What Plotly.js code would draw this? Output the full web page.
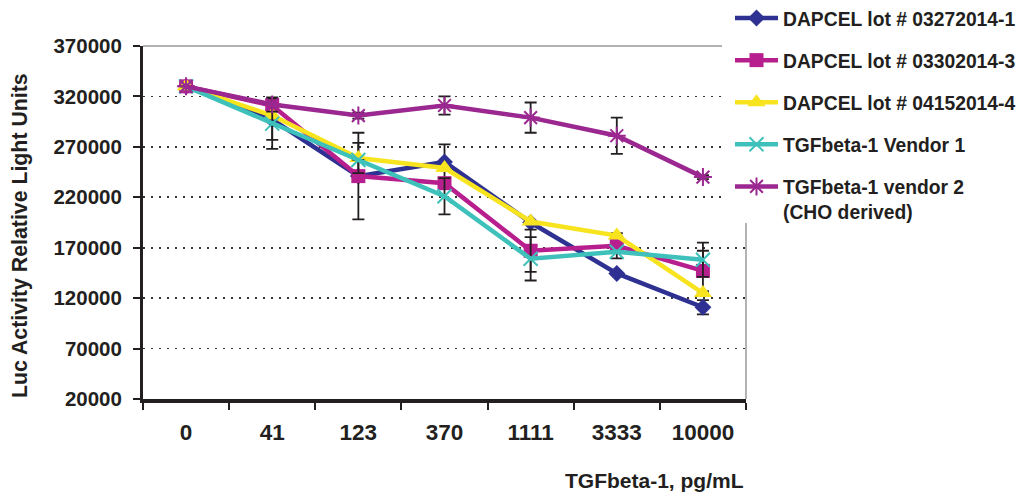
<!DOCTYPE html>
<html>
<head>
<meta charset="utf-8">
<script src="https://cdn.plot.ly/plotly-3.0.1.min.js"></script>
<style>
html,body{margin:0;padding:0;background:#fff;}
#chart{width:1018px;height:492px;}
</style>
</head>
<body>
<div id="chart"></div>
<script>
// ---- data ----
var categories = ["0", "41", "123", "370", "1111", "3333", "10000"];
var seriesNames = [
  "DAPCEL lot # 03272014-1",
  "DAPCEL lot # 03302014-3",
  "DAPCEL lot # 04152014-4",
  "TGFbeta-1 Vendor 1",
  "TGFbeta-1 vendor 2<br>(CHO derived)"
];
var lot1 = [330000, 297000, 241000, 255000, 195000, 144500, 111000];
var lot3 = [330000, 311000, 241000, 234000, 167000, 172000, 147000];
var lot4 = [330000, 301000, 259000, 249000, 196000, 182000, 125000];
var vendor1 = [330000, 293000, 257000, 221000, 159000, 166000, 158000];
var vendor2 = [330000, 312000, 301000, 311000, 299000, 281000, 240000];
var lot1Err = [null, 20000, null, 17500, null, null, 7000];
var lot3Err = [null, null, 43000, null, 21000, 12500, 20000];
var lot4Err = [null, null, 15000, null, null, null, null];
var vendor1Err = [null, 25000, null, 18000, 21500, null, 17000];
var vendor2Err = [null, 7000, 3000, 9000, 15000, 18000, 2000];
var yTicks = [20000, 70000, 120000, 170000, 220000, 270000, 320000, 370000];

// ---- styles ----
var colors = ["#2E3192", "#B81F8E", "#F8E41E", "#3EC1BA", "#9B2790"];
var symbols = ["diamond", "square", "triangle-up", "x-thin-open", "asterisk-open"];
var sizes = [13, 14, 16, 14, 15];
var values = [lot1, lot3, lot4, vendor1, vendor2];
var errs = [lot1Err, lot3Err, lot4Err, vendor1Err, vendor2Err];

var traces = values.map(function (v, i) {
  var thin = (i >= 3);
  return {
    type: "scatter",
    mode: "lines+markers",
    x: categories,
    y: v,
    name: seriesNames[i],
    legendgroup: "g" + i,
    line: {color: colors[i], width: 4.5},
    marker: {
      symbol: symbols[i],
      size: sizes[i],
      color: colors[i],
      line: {color: colors[i], width: thin ? 2 : 0}
    },
    error_y: {
      type: "data",
      array: errs[i],
      visible: true,
      color: "#231F20",
      thickness: 1.8,
      width: 6
    }
  };
});

var W = 1018, H = 492;
var L = 143, R = 746, T = 46, B = 399;
function px(x) { return (x - L) / (R - L); }
function py(y) { return (B - y) / (B - T); }

var fontFam = "'Liberation Sans', Arial, sans-serif";

var layout = {
  width: W,
  height: H,
  margin: {l: L, r: W - R, t: T, b: H - B, pad: 0, autoexpand: false},
  paper_bgcolor: "#fff",
  plot_bgcolor: "#fff",
  font: {family: fontFam, color: "#231F20"},
  showlegend: true,
  xaxis: {
    type: "category",
    range: [-0.5, 6.5],
    automargin: false,
    showline: true,
    linecolor: "#231F20",
    linewidth: 4,
    ticks: "outside",
    tickson: "boundaries",
    ticklen: 7,
    tickwidth: 2,
    tickcolor: "#231F20",
    showgrid: false,
    zeroline: false,
    tickfont: {family: fontFam, size: 22.5, weight: "bold", color: "#231F20"},
    ticklabelstandoff: 10,
    fixedrange: true
  },
  yaxis: {
    range: [20000, 370000],
    automargin: false,
    tickvals: yTicks,
    ticktext: yTicks.map(String),
    showline: true,
    linecolor: "#231F20",
    linewidth: 3,
    ticks: "outside",
    ticklen: 7,
    tickwidth: 2,
    tickcolor: "#231F20",
    showgrid: true,
    gridcolor: "#333333",
    gridwidth: 1.7,
    griddash: "2px,6px",
    zeroline: false,
    tickfont: {family: fontFam, size: 20.5, weight: "bold", color: "#231F20"},
    ticklabelstandoff: 7,
    fixedrange: true
  },
  legend: {
    x: px(730),
    xanchor: "left",
    y: py(-1),
    yanchor: "top",
    bgcolor: "rgba(0,0,0,0)",
    borderwidth: 0,
    itemwidth: 43,
    tracegroupgap: 14,
    valign: "top",
    font: {family: fontFam, size: 19.3, weight: "bold", color: "#231F20"}
  },
  shapes: [
    {type: "rect", xref: "paper", yref: "paper", x0: px(722), x1: px(1018), y0: py(222), y1: py(0),
     fillcolor: "#fff", line: {width: 0}, layer: "above"},
    {type: "line", xref: "paper", yref: "paper", x0: 0, x1: px(722), y0: 1, y1: 1,
     line: {color: "#9a9a9a", width: 1.5}, layer: "above"},
    {type: "line", xref: "paper", yref: "paper", x0: 1, x1: 1, y0: 0, y1: py(223),
     line: {color: "#9a9a9a", width: 1.5}, layer: "above"}
  ],
  annotations: [
    {text: "<b>TGFbeta-1, pg/mL</b>", xref: "paper", yref: "paper", x: px(746), y: py(481),
     xanchor: "right", yanchor: "middle", showarrow: false,
     font: {family: fontFam, size: 21, color: "#231F20"}},
    {text: "<b>Luc Activity Relative Light Units</b>", xref: "paper", yref: "paper", x: px(20), y: py(236),
     xanchor: "center", yanchor: "middle", textangle: -90, showarrow: false,
     font: {family: fontFam, size: 21.3, color: "#231F20"}}
  ]
};

Plotly.newPlot("chart", traces, layout, {displayModeBar: false, staticPlot: true});
</script>
</body>
</html>
